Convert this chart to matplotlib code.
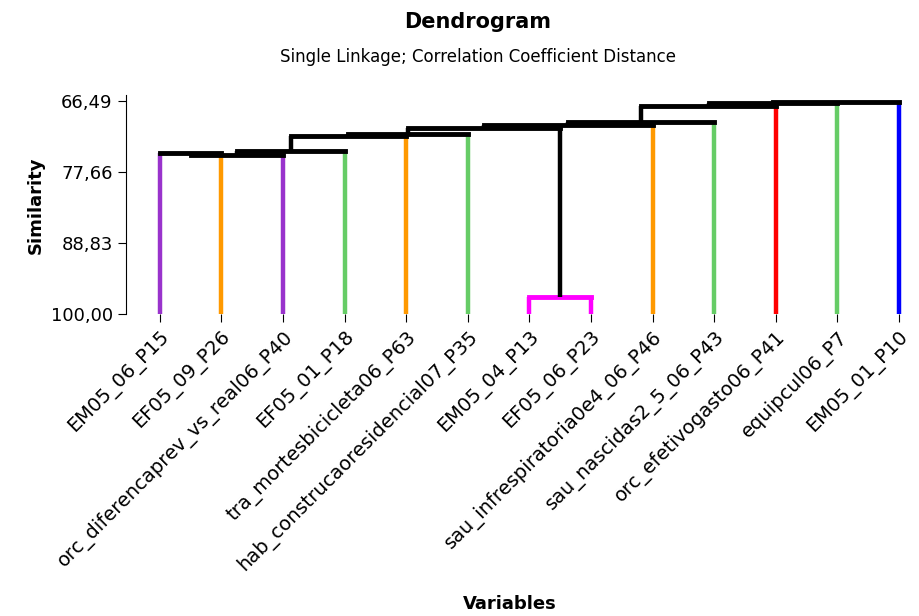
import matplotlib
matplotlib.use("Agg")
import matplotlib.pyplot as plt

labels = ["EM05_06_P15", "EF05_09_P26", "orc_diferencaprev_vs_real06_P40", "EF05_01_P18",
          "tra_mortesbicicleta06_P63", "hab_construcaoresidencial07_P35", "EM05_04_P13",
          "EF05_06_P23", "sau_infrespiratoria0e4_06_P46", "sau_nascidas2_5_06_P43",
          "orc_efetivogasto06_P41", "equipcul06_P7", "EM05_01_P10"]
leaf_colors = ["#9933cc", "#ff9900", "#9933cc", "#66cc66", "#ff9900", "#66cc66", "#ff00ff",
               "#ff00ff", "#ff9900", "#66cc66", "#ff0000", "#66cc66", "#0000ff"]
# merges: (child a, child b, similarity); leaves 0..12, clusters 13..
merges = [(0, 1, 74.7), (13, 2, 74.9), (14, 3, 74.3), (15, 4, 72.0), (16, 5, 71.6),
          (6, 7, 97.3), (17, 18, 70.7), (19, 8, 70.2), (20, 9, 69.7), (21, 10, 67.3),
          (22, 11, 66.75), (23, 12, 66.55)]
merge_colors = ["k"] * 5 + ["#ff00ff"] + ["k"] * 6

fig, ax = plt.subplots(figsize=(9.19, 6.16), dpi=100)
fig.subplots_adjust(left=0.137, right=0.985, top=0.845, bottom=0.49)

n = len(labels)
xs = list(range(n))
hs = [100.0] * n
for i, (a, b, h) in enumerate(merges):
    c = merge_colors[i]
    ca = leaf_colors[a] if a < n else "k"
    cb = leaf_colors[b] if b < n else "k"
    ax.plot([xs[a], xs[a]], [hs[a], h], color=ca, lw=3.2, solid_capstyle="butt")
    ax.plot([xs[b], xs[b]], [hs[b], h], color=cb, lw=3.2, solid_capstyle="butt")
    ax.plot([xs[a], xs[b]], [h, h], color=c, lw=3.5)
    xs.append((xs[a] + xs[b]) / 2)
    hs.append(h)

ax.set_ylim(100, 65.6)
ax.set_xlim(-0.55, 12.1)
ax.set_yticks([66.49, 77.66, 88.83, 100.0])
ax.set_yticklabels(["66,49", "77,66", "88,83", "100,00"], fontsize=13)
ax.set_xticks(range(n))
ax.set_xticklabels(labels, rotation=45, ha="right", rotation_mode="anchor", fontsize=14)
for s in ["top", "right", "bottom"]:
    ax.spines[s].set_visible(False)
ax.tick_params(direction="out", length=6)
ax.set_ylabel("Similarity", fontsize=13, fontweight="bold")
fig.text(0.555, 0.012, "Variables", ha="center", fontsize=13, fontweight="bold")
fig.text(0.52, 0.955, "Dendrogram", ha="center", fontsize=15, fontweight="bold")
fig.text(0.52, 0.9, "Single Linkage; Correlation Coefficient Distance", ha="center", fontsize=12)
fig.savefig("out.png")
